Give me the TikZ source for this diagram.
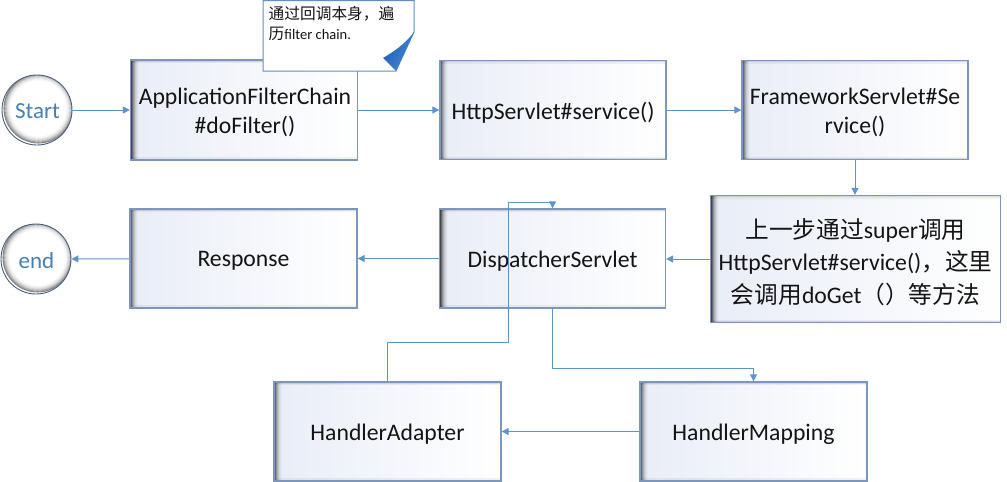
\documentclass[tikz,border=0pt]{standalone}
\usepackage{fontspec}
\setmainfont{Carlito}
\newfontfamily\cjk{Noto Sans CJK SC}
\newcommand\zh[1]{{\cjk #1}}
\usetikzlibrary{arrows.meta,calc}
\definecolor{bordc}{RGB}{124,150,188}
\definecolor{boxL}{RGB}{233,237,247}
\definecolor{connc}{RGB}{94,148,206}
\definecolor{circb}{RGB}{72,96,128}
\definecolor{circt}{RGB}{70,128,180}
\definecolor{notec}{RGB}{96,142,200}
\definecolor{foldA}{RGB}{28,92,178}
\definecolor{foldB}{RGB}{74,138,215}
\definecolor{txt}{RGB}{20,20,20}
\begin{document}
\begin{tikzpicture}[x=1pt,y=-1pt,
  box/.style={draw=bordc, line width=1.3pt, minimum width=226pt, minimum height=99pt,
    left color=boxL, right color=white, inner sep=0pt,
    path picture={
      \foreach \a/\b/\o in {0/1/0.70,1/2/0.55,2/3/0.40,3/4/0.27,4/5/0.17,5/6/0.10,6/7/0.05,7/8/0.02}{
        \fill[black, fill opacity=\o] ([xshift=\a pt]path picture bounding box.north west) rectangle ([xshift=\b pt]path picture bounding box.south west);
      }
      \foreach \a/\b/\o in {0/1.5/0.14,1.5/3/0.05}{
        \fill[black, fill opacity=\o] ([yshift=-\a pt]path picture bounding box.north west) rectangle ([yshift=-\b pt]path picture bounding box.north east);
        \fill[black, fill opacity=\o] ([yshift=\a pt]path picture bounding box.south west) rectangle ([yshift=\b pt]path picture bounding box.south east);
      }
    }},
  btxt/.style={align=center, text=txt, inner sep=0pt, font=\fontsize{23.7pt}{29pt}\selectfont},
  ctxt/.style={text=circt, font=\fontsize{23pt}{27pt}\selectfont, inner sep=0pt},
  circ/.style={circle, draw=circb, line width=0.9pt, minimum size=70pt, fill=white, inner sep=0pt,
    path picture={
      \foreach \r/\o in {34.5/0.45,33.5/0.33,32.5/0.23,31.5/0.15,30.5/0.09,29.5/0.05,28.5/0.025}{
        \draw[black, draw opacity=\o, line width=1.05pt] ([xshift=1.5pt,yshift=1.5pt]path picture bounding box.center) circle (\r pt);
      }
    }},
  conn/.style={draw=connc, line width=1pt, -{Triangle[length=7pt,width=7pt]}}
]
\useasboundingbox (0,0) rectangle (1007,482);
\fill[white] (0,0) rectangle (1007,482);

% terminals
\node[circ] (start) at (37,110) {};
\node[ctxt] (startt) at (37.5,111.5) {Start};
\node[circ] (end) at (36,259) {};
\node[ctxt] (endt) at (36.5,260.5) {end};

% boxes
\node[box, minimum width=227pt, minimum height=100pt] (afc) at (244,110) {};
\node[btxt] (afct) at (245,112.5) {ApplicationFilterChain\\\#doFilter()};
\node[box] (http) at (553,110) {};
\node[btxt] (httpt) at (553,112.5) {HttpServlet\#service()};
\node[box] (fw) at (855,110) {};
\node[btxt] (fwt) at (855,112.5) {FrameworkServlet\#Se\\rvice()};
\node[box, minimum width=290pt, minimum height=127pt] (big) at (855.5,259) {};
\node[btxt, font=\fontsize{23.7pt}{32.5pt}\selectfont] (bigt) at (855.5,262)
  {\zh{上一步通过}super\zh{调用}\\HttpServlet\#service()\zh{，这里}\\\zh{会调用}doGet\zh{（）等方法}};
\node[box] (ds) at (552.5,258.5) {};
\node[btxt] (dst) at (552.5,261) {DispatcherServlet};
\node[box, minimum width=227pt] (resp) at (243.5,258.5) {};
\node[btxt] (respt) at (243.5,261) {Response};
\node[box, minimum width=227pt] (ha) at (387.5,431.5) {};
\node[btxt] (hat) at (387.5,434) {HandlerAdapter};
\node[box, minimum width=227pt] (hm) at (753.5,431.5) {};
\node[btxt] (hmt) at (753.5,434) {HandlerMapping};

% note
\draw[draw=notec, fill=white, line width=1pt] (263,0.5) -- (414,0.5) -- (414,32) -- (396,71) -- (263,71) -- cycle;
\shade[left color=foldA, right color=foldB, shading angle=60] (414,32) -- (396,71) -- (383,58) .. controls (395,51) and (406,43) .. (414,32) -- cycle;
\node[anchor=north west, align=left, inner sep=0pt, text=txt, font=\fontsize{15.7pt}{20.5pt}\selectfont] (note) at (268.5,6)
  {\zh{通过回调本身，遍}\\\zh{历}{\fontsize{14.5pt}{20pt}\selectfont filter chain.}};

% connectors
\coordinate (c1) at (753.5,368);
\coordinate (c2) at (508,342);
\coordinate (c3) at (552.5,202);
\draw[conn] (start) -- (afc);
\draw[conn] (afc) -- (http);
\draw[conn] (http) -- (fw);
\draw[conn] (fw.south) -- (fw.south |- big.north);
\draw[conn] (big.west) -- (big.west -| ds.east);
\draw[conn] (ds) -- (resp);
\draw[conn] (resp) -- (end);
\draw[conn] (ds.south) |- (c1) -- (hm.north);
\draw[conn] (hm) -- (ha);
\draw[conn] (ha.north) |- (c2) |- (c3) -- (ds.north);
\end{tikzpicture}
\end{document}
